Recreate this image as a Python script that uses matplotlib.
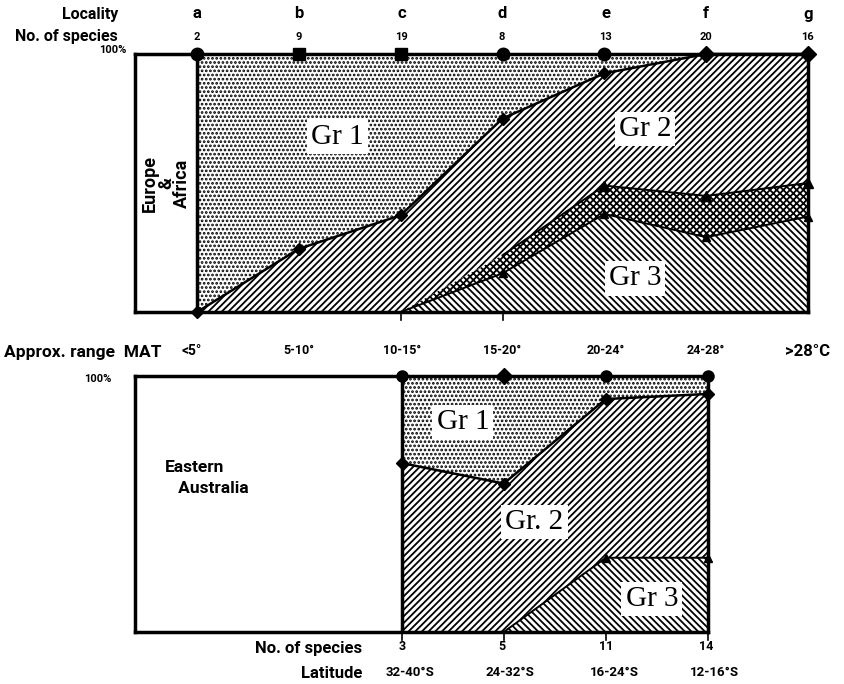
import numpy as np
import matplotlib.pyplot as plt

# upper panel: Europe & Africa, localities a-g
localities = ['a', 'b', 'c', 'd', 'e', 'f', 'g']
n_species = ['2', '9', '19', '8', '13', '20', '16']
mat_range = ['<5°', '5-10°', '10-15°', '15-20°', '20-24°', '24-28°', '>28°C']
# cumulative % (bottom -> top): Gr 3, mixed Gr 2/3, Gr 2, Gr 1 up to 100
gr3_top = [0, 0, 0, 15, 38, 29, 37]
mix_top = [0, 0, 0, 22, 49, 45, 50]
gr2_top = [0, 24.5, 37.5, 75, 92.5, 100, 100]

# lower panel: Eastern Australia (columns c-f)
aus_n_species = ['3', '5', '11', '14']
aus_latitude = ['32-40°S', '24-32°S', '16-24°S', '12-16°S']
aus_gr3_top = [0, 0, 29, 29]
aus_gr2_top = [66, 58, 91, 93]

W, H = 845, 684
plt.rcParams['hatch.linewidth'] = 1.3
fig = plt.figure(figsize=(W / 100, H / 100), dpi=100)

DOTS, FWD, BACK, CROSS = '....', '/////', '\\\\\\\\\\', 'xxxxx'


def px(x, y):
    return x / W, 1 - y / H


def axes_px(x0, y0, x1, y1):
    return fig.add_axes([x0 / W, 1 - y1 / H, (x1 - x0) / W, (y1 - y0) / H])


def label(ax, x, y, s):
    ax.text(x, y, s, family=['Liberation Serif', 'DejaVu Serif'], fontsize=21,
            ha='center', va='center',
            bbox=dict(facecolor='white', edgecolor='none', pad=3), zorder=6)


bold = dict(fontweight='bold', color='black', family=['Roboto', 'DejaVu Sans'])
xleft = -0.61

# ---------------- upper panel ----------------
ax = axes_px(135, 54, 808, 312)
x = np.arange(len(localities))
top = np.full(len(x), 100.0)
ax.fill_between(x, gr2_top, top, facecolor='white', edgecolor='black', hatch=DOTS, lw=0)
ax.fill_between(x, mix_top, gr2_top, facecolor='white', edgecolor='black', hatch=FWD, lw=0)
ax.fill_between(x, gr3_top, mix_top, facecolor='white', edgecolor='black', hatch=CROSS, lw=0)
ax.fill_between(x, 0, gr3_top, facecolor='white', edgecolor='black', hatch=BACK, lw=0)
ax.plot(x, gr2_top, color='black', lw=1.8, marker='D', ms=6, zorder=5, clip_on=False)
ax.plot(x[3:], mix_top[3:], color='black', lw=1.4, zorder=5)
ax.plot(x[4:], mix_top[4:], color='black', lw=0, marker='^', ms=7, zorder=5, clip_on=False)
ax.plot(x[2:], gr3_top[2:], color='black', lw=1.4, zorder=5)
ax.plot(x[3:], gr3_top[3:], color='black', lw=0, marker='^', ms=6, zorder=5, clip_on=False)
top_markers = ['o', 's', 's', 'o', 'o', 'D', 'D']
for xi, m in zip(x, top_markers):
    ax.plot(xi, 100, marker=m, color='black', ms=9 if m == 'o' else 8, clip_on=False, zorder=7)
ax.axvline(0, color='black', lw=2.5)
ax.set_xlim(xleft, 6)
ax.set_ylim(0, 100)
ax.set_xticks([])
ax.set_yticks([])
for sp in ax.spines.values():
    sp.set_linewidth(2.5)
ax.text(xleft / 2, 50, 'Europe\n&\nAfrica', rotation=90, ha='center', va='center',
        fontsize=13, linespacing=0.85, **bold)
label(ax, 1.38, 68, 'Gr 1')
label(ax, 4.4, 71, 'Gr 2')
label(ax, 4.3, 13, 'Gr 3')
for xi in [2, 3]:
    ax.plot([xi, xi], [0, -3], color='black', lw=1.2, clip_on=False)

fig.text(*px(118, 14), 'Locality', ha='right', va='center', fontsize=11.5, **bold)
fig.text(*px(118, 37), 'No. of species', ha='right', va='center', fontsize=11.5, **bold)
fig.text(*px(127, 50), '100%', ha='right', va='center', fontsize=8, **bold)
xcol = [197, 299, 402, 502, 606, 706, 808]
for xc, loc, n in zip(xcol, localities, n_species):
    fig.text(*px(xc, 14), loc, ha='center', va='center', fontsize=12, **bold)
    fig.text(*px(xc, 37), n, ha='center', va='center', fontsize=8, **bold)

fig.text(*px(4, 353), 'Approx. range  MAT', ha='left', va='center', fontsize=12.5, **bold)
fig.text(*px(192, 351), mat_range[0], ha='center', va='center', fontsize=10, **bold)
for xc, r in zip(xcol[1:], mat_range[1:]):
    fig.text(*px(xc, 351), r, ha='center', va='center',
             fontsize=9 if r[0] != '>' else 12, **bold)

# ---------------- lower panel ----------------
ax2 = axes_px(135, 376, 708, 632)
xa = np.arange(2, 2 + len(aus_n_species))
topa = np.full(len(xa), 100.0)
ax2.fill_between(xa, aus_gr2_top, topa, facecolor='white', edgecolor='black', hatch=DOTS, lw=0)
ax2.fill_between(xa, aus_gr3_top, aus_gr2_top, facecolor='white', edgecolor='black', hatch=FWD, lw=0)
ax2.fill_between(xa, 0, aus_gr3_top, facecolor='white', edgecolor='black', hatch=BACK, lw=0)
ax2.plot(xa, aus_gr2_top, color='black', lw=1.8, marker='D', ms=6, zorder=5, clip_on=False)
ax2.plot(xa[1:], aus_gr3_top[1:], color='black', lw=1.4, zorder=5)
ax2.plot(xa[2:], aus_gr3_top[2:], color='black', lw=0, marker='^', ms=6, zorder=5, clip_on=False)
for xi, m in zip(xa, ['o', 'D', 'o', 'o']):
    ax2.plot(xi, 100, marker=m, color='black', ms=8, clip_on=False, zorder=7)
ax2.axvline(2, color='black', lw=2.5)
ax2.set_xlim(xleft, 5)
ax2.set_ylim(0, 100)
ax2.set_xticks([])
ax2.set_yticks([])
for sp in ax2.spines.values():
    sp.set_linewidth(2.5)
label(ax2, 2.6, 82, 'Gr 1')
label(ax2, 3.3, 43, 'Gr. 2')
label(ax2, 4.45, 13, 'Gr 3')
for xi in xa:
    ax2.plot([xi, xi], [0, -3], color='black', lw=1.2, clip_on=False)
ax2.text(-0.32, 60, 'Eastern\n   Australia', ha='left', va='center', fontsize=12.5,
         linespacing=1.5, **bold)

fig.text(*px(112, 379), '100%', ha='right', va='center', fontsize=8, **bold)
fig.text(*px(362, 649), 'No. of species', ha='right', va='center', fontsize=12, **bold)
fig.text(*px(362, 673), 'Latitude', ha='right', va='center', fontsize=12, **bold)
for xc, n, lat in zip(xcol[2:6], aus_n_species, aus_latitude):
    fig.text(*px(xc, 647), n, ha='center', va='center', fontsize=9, **bold)
    fig.text(*px(xc + 8, 672), lat, ha='center', va='center', fontsize=9.5, **bold)

fig.savefig('out.png', dpi=100)
